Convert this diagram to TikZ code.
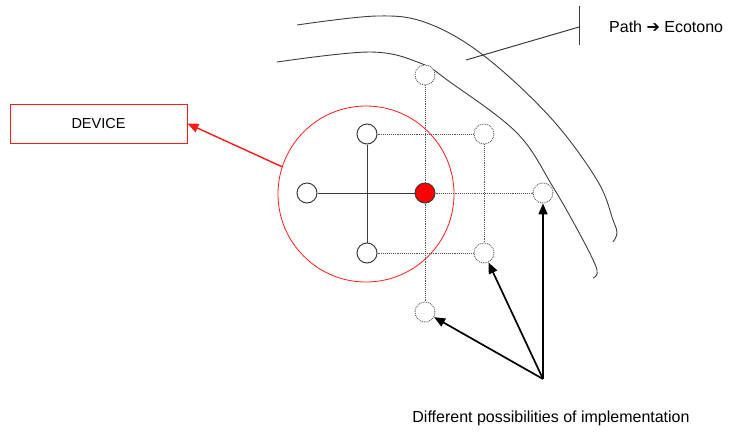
\documentclass[tikz,border=0pt]{standalone}
\usepackage{fontspec}
\setmainfont{Liberation Sans}
\newfontfamily\symfont{DejaVu Sans}
\usetikzlibrary{arrows.meta}
\usepackage{xcolor}
\definecolor{LineGray}{HTML}{3C3C3C}
\definecolor{DotGray}{HTML}{555555}
\definecolor{DevRed}{HTML}{FF1A1A}

\tikzset{
  unit/.style={circle,draw=LineGray,fill=white,line width=1pt,minimum size=20pt,inner sep=0pt},
  spot/.style={circle,draw=DotGray,densely dotted,line width=0.9pt,fill=white,minimum size=20pt,inner sep=0pt},
  link/.style={LineGray,line width=1pt},
  dotlink/.style={DotGray,densely dotted,line width=0.9pt},
  pointer/.style={black,line width=1.7pt,-{Triangle[length=11pt,width=9pt]}},
  lbl/.style={font=\fontsize{16}{19}\selectfont,inner sep=0pt}
}

\begin{document}
\begin{tikzpicture}[x=1pt,y=-1pt]
    \useasboundingbox (0,0) rectangle (736,432);
    % Path borders (ecotono)
    \draw[LineGray,line width=0.9pt] plot[smooth,tension=0.6] coordinates
      {(297,25) (377,16) (427,23) (483,55) (550,117) (597,180) (613,220) (617,233) (613,242)};
    \draw[LineGray,line width=0.9pt] plot[smooth,tension=0.6] coordinates
      {(277,62) (370,52) (420,63) (450,82) (517,133) (553,187) (583,240) (597,270) (593,278)};
    % Label line with end tick
    \coordinate (pathfoot) at (466,60);
    \coordinate (pathtick) at (579,27);
    \draw[LineGray,line width=1pt] (pathfoot) -- (pathtick);
    \draw[LineGray,line width=1pt] (579,6) -- (579,45);
    \node[lbl,anchor=west] (pathtxt) at (609,27) {Path {\symfont\bfseries ➔} Ecotono};
    % Device range
    \node[circle,draw=DevRed,line width=0.8pt,minimum size=176pt,inner sep=0pt] (range) at (366,194) {};
    \node[draw=DevRed,line width=0.9pt,minimum width=177pt,minimum height=39pt,inner sep=0pt,
          font=\fontsize{14.5}{17}\selectfont] (device) at (98.5,123.5) {DEVICE};
    \draw[DevRed,line width=1.4pt,-{Triangle[length=11pt,width=9pt]}] (range.162) -- (device.east);
    % Units of the device
    \node[unit] (utop) at (367,134) {};
    \node[unit] (uleft) at (307,193) {};
    \node[unit] (ubot) at (367,253) {};
    \node[unit,fill=red] (ured) at (425,193) {};
    % Possible positions
    \node[spot] (ptop) at (425,75) {};
    \node[spot] (pupr) at (484,134) {};
    \node[spot] (pright) at (543,193) {};
    \node[spot] (plwr) at (484,253) {};
    \node[spot] (pbot) at (425,312) {};
    % Solid cross
    \draw[link] (uleft) -- (ured);
    \draw[link] (utop) -- (ubot);
    % Dotted grid
    \draw[dotlink] (utop) -- (pupr);
    \draw[dotlink] (pupr) -- (plwr);
    \draw[dotlink] (ubot) -- (plwr);
    \draw[dotlink] (ured) -- (pright);
    \draw[dotlink] (ptop) -- (ured);
    \draw[dotlink] (ured) -- (pbot);
    % Arrows to the options
    \coordinate (apex) at (543,379);
    \draw[pointer] (apex) -- (pbot);
    \draw[pointer] (apex) -- (plwr);
    \draw[pointer] (apex) -- (pright);
    \node[lbl] (opts) at (551,418) {Different possibilities of implementation};
\end{tikzpicture}
\end{document}
